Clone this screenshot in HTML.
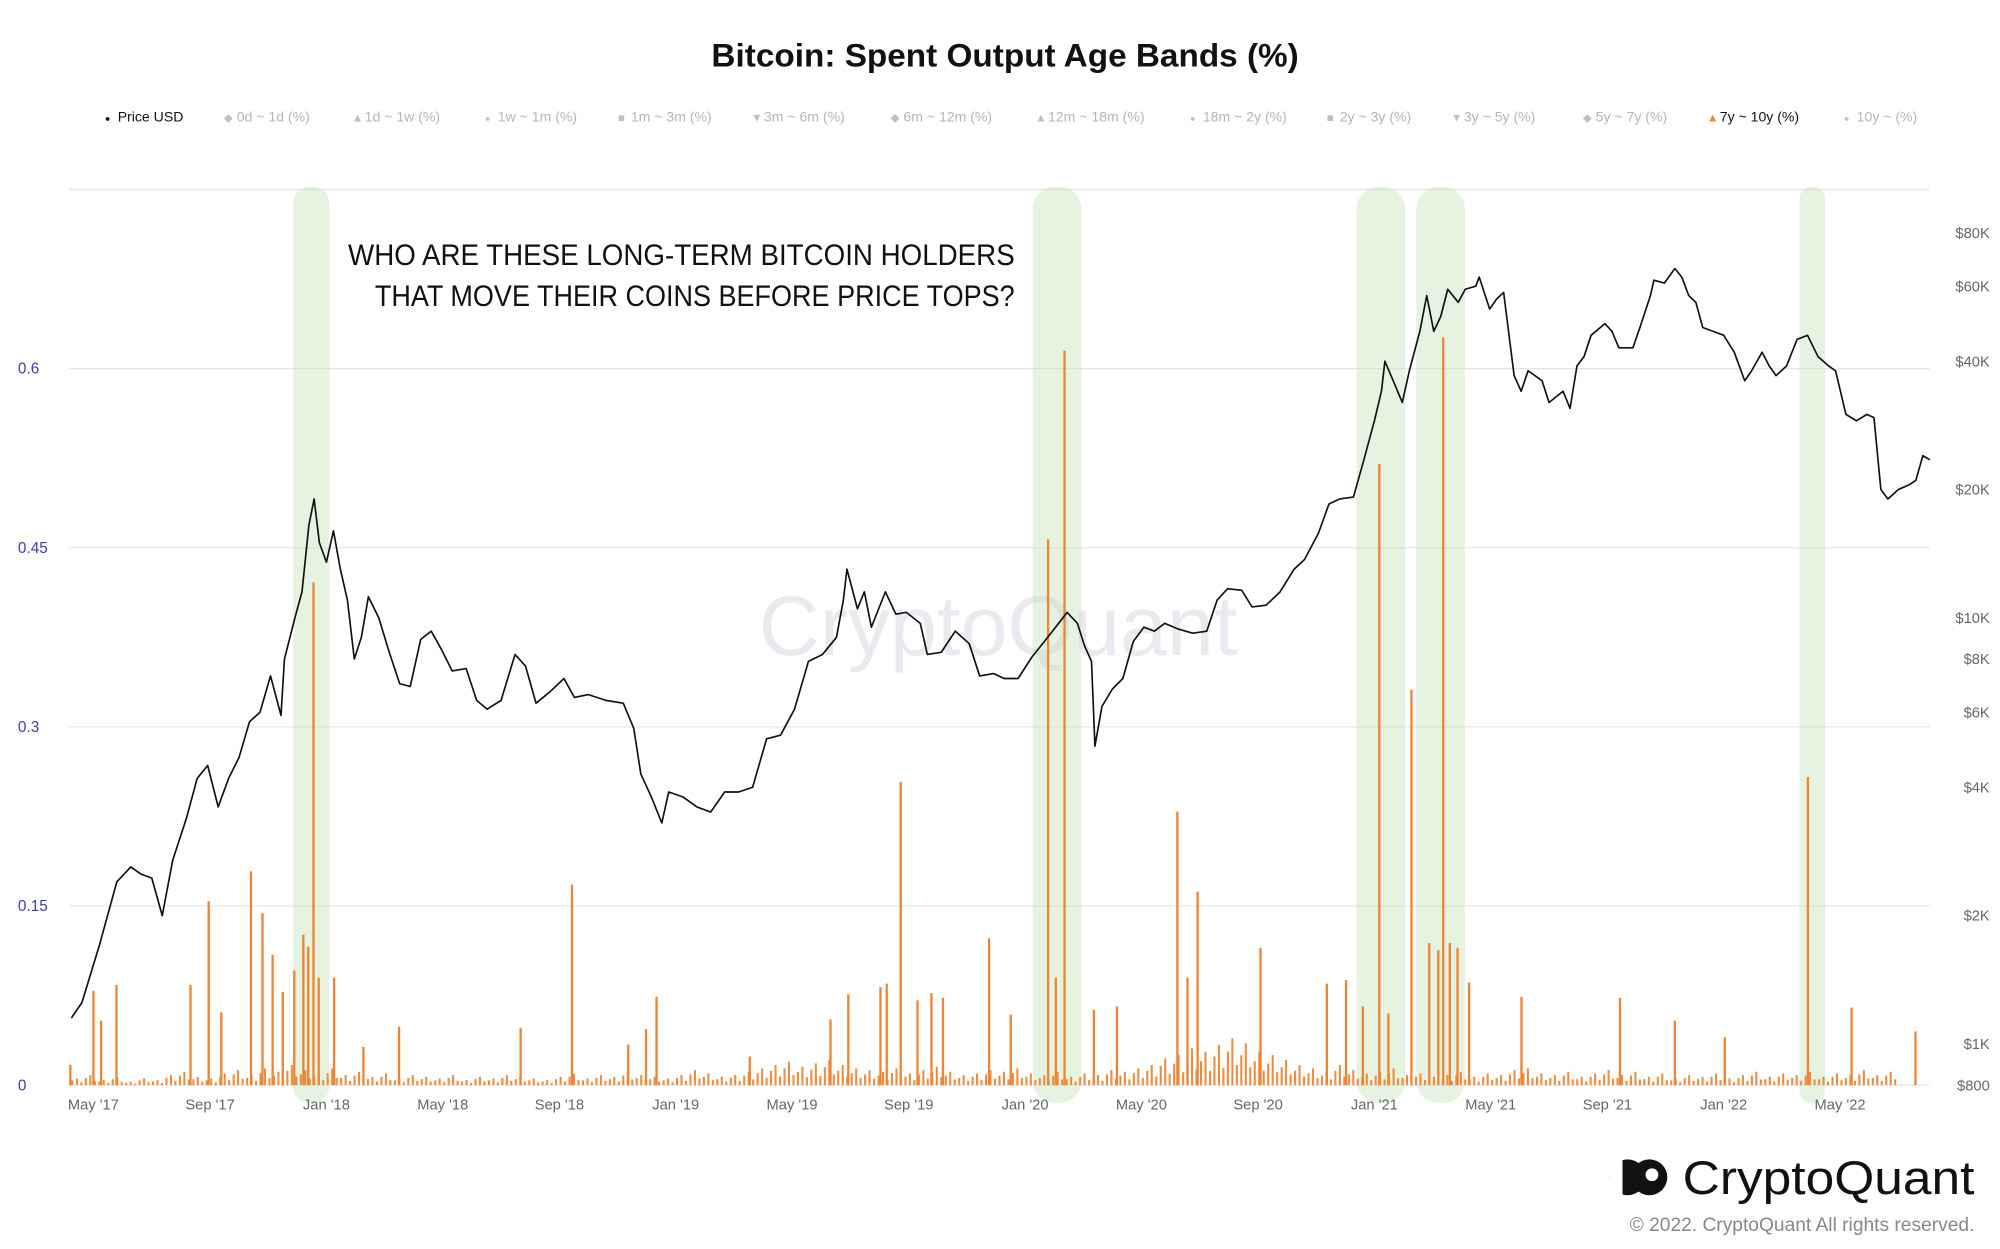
<!DOCTYPE html>
<html><head><meta charset="utf-8"><style>
html,body{margin:0;padding:0;background:#fff;}
svg{display:block;font-family:"Liberation Sans",sans-serif;}
</style></head><body>
<svg id="chart" width="2000" height="1249" viewBox="0 0 1563 976" xmlns="http://www.w3.org/2000/svg">
<text x="556" y="52" textLength="459" lengthAdjust="spacingAndGlyphs" font-size="25" font-weight="bold" fill="#111">Bitcoin: Spent Output Age Bands (%)</text>
<g id="legend" font-size="11" fill="#bbb"></g>
<g id="grid"></g>
<text x="780" y="512" text-anchor="middle" font-size="66" fill="#e9e9f0">CryptoQuant</text>
<g id="bands"></g>
<g id="bars"></g>
<g id="price"></g>
<g id="axes"></g>
<text x="272" y="207" textLength="521" lengthAdjust="spacingAndGlyphs" font-size="23" fill="#111">WHO ARE THESE  LONG-TERM BITCOIN HOLDERS</text>
<text x="293" y="239" textLength="500" lengthAdjust="spacingAndGlyphs" font-size="23" fill="#111">THAT MOVE THEIR COINS BEFORE PRICE TOPS?</text>
<g>
<circle cx="1272" cy="920" r="14" fill="#111"/><rect x="1258" y="906" width="10" height="28" fill="#fff"/>
<circle cx="1289" cy="920" r="14" fill="#111"/><circle cx="1291" cy="918" r="5" fill="#fff"/>
<text x="1315" y="933" textLength="228" lengthAdjust="spacingAndGlyphs" font-size="37" fill="#111">CryptoQuant</text>
</g>
<text x="1543" y="962" text-anchor="end" font-size="15" fill="#888">© 2022. CryptoQuant All rights reserved.</text>
</svg>
<script>
const priceDates=[2017.27,2017.30,2017.35,2017.40,2017.44,2017.47,2017.50,2017.53,2017.56,2017.60,2017.63,2017.66,2017.69,2017.72,2017.75,2017.78,2017.81,2017.84,2017.87,2017.88,2017.91,2017.93,2017.95,2017.965,2017.98,2018.00,2018.02,2018.04,2018.06,2018.08,2018.10,2018.12,2018.15,2018.18,2018.21,2018.24,2018.27,2018.30,2018.33,2018.36,2018.40,2018.43,2018.46,2018.50,2018.54,2018.57,2018.60,2018.64,2018.68,2018.71,2018.75,2018.80,2018.85,2018.88,2018.90,2018.93,2018.96,2018.98,2019.02,2019.06,2019.10,2019.14,2019.18,2019.22,2019.26,2019.30,2019.34,2019.38,2019.42,2019.46,2019.48,2019.49,2019.52,2019.54,2019.56,2019.60,2019.63,2019.66,2019.70,2019.72,2019.76,2019.80,2019.84,2019.87,2019.91,2019.94,2019.98,2020.02,2020.06,2020.10,2020.12,2020.15,2020.17,2020.19,2020.20,2020.22,2020.25,2020.28,2020.31,2020.34,2020.37,2020.40,2020.44,2020.48,2020.52,2020.55,2020.58,2020.62,2020.65,2020.69,2020.73,2020.77,2020.80,2020.84,2020.87,2020.90,2020.94,2020.97,2021.00,2021.02,2021.03,2021.06,2021.08,2021.10,2021.13,2021.15,2021.17,2021.19,2021.21,2021.24,2021.26,2021.29,2021.30,2021.33,2021.35,2021.37,2021.38,2021.40,2021.42,2021.44,2021.48,2021.50,2021.54,2021.56,2021.58,2021.60,2021.62,2021.66,2021.68,2021.70,2021.74,2021.76,2021.79,2021.80,2021.83,2021.86,2021.88,2021.90,2021.92,2021.94,2021.97,2022.00,2022.03,2022.06,2022.08,2022.11,2022.13,2022.15,2022.18,2022.21,2022.24,2022.27,2022.30,2022.32,2022.35,2022.38,2022.41,2022.43,2022.45,2022.47,2022.50,2022.53,2022.55,2022.57,2022.59];
const priceValues=[1150,1250,1700,2400,2600,2500,2450,2000,2700,3400,4200,4500,3600,4200,4700,5700,6000,7300,5900,8000,10000,11500,16500,19000,15000,13500,16000,13000,11000,8000,9000,11200,10000,8300,7000,6900,8900,9300,8400,7500,7600,6400,6100,6400,8200,7700,6300,6700,7200,6500,6600,6400,6300,5500,4300,3800,3300,3900,3800,3600,3500,3900,3900,4000,5200,5300,6100,7900,8200,9000,11000,13000,10500,11500,9500,11500,10200,10300,9700,8200,8300,9300,8700,7300,7400,7200,7200,8100,8900,9800,10300,9700,8600,7900,5000,6200,6800,7200,8800,9500,9300,9700,9400,9200,9300,11000,11700,11600,10600,10700,11500,13000,13700,15800,18500,19000,19200,23500,29000,34000,40000,35000,32000,38000,47000,57000,47000,51000,59000,55000,59000,60000,63000,53000,56000,58000,50000,37000,34000,38000,36000,32000,34000,31000,39000,41000,46000,49000,47000,43000,43000,48000,57000,62000,61000,66000,63000,57000,55000,48000,47000,46000,42000,36000,38000,42000,39000,37000,39000,45000,46000,41000,39000,38000,30000,29000,30000,29500,20000,19000,20000,20500,21000,24000,23500,24000];
const spikeDates=[2017.267,2017.333,2017.355,2017.399,2017.611,2017.663,2017.699,2017.784,2017.817,2017.846,2017.875,2017.908,2017.934,2017.948,2017.963,2017.978,2018.022,2018.106,2018.208,2018.556,2018.703,2018.864,2018.915,2018.945,2019.212,2019.443,2019.494,2019.586,2019.604,2019.644,2019.692,2019.732,2019.765,2019.897,2019.959,2020.066,2020.088,2020.113,2020.197,2020.263,2020.436,2020.465,2020.494,2020.674,2020.864,2020.919,2020.967,2021.014,2021.040,2021.106,2021.157,2021.183,2021.197,2021.216,2021.238,2021.271,2021.421,2021.703,2021.860,2022.003,2022.241,2022.366,2022.549];
const spikeValues=[0.017,0.079,0.054,0.084,0.084,0.154,0.061,0.179,0.144,0.109,0.078,0.096,0.126,0.116,0.421,0.090,0.090,0.032,0.049,0.048,0.168,0.034,0.047,0.074,0.024,0.055,0.076,0.082,0.085,0.254,0.071,0.077,0.073,0.123,0.059,0.457,0.090,0.615,0.063,0.066,0.229,0.090,0.162,0.115,0.085,0.088,0.066,0.520,0.060,0.331,0.119,0.113,0.626,0.119,0.115,0.086,0.074,0.073,0.054,0.040,0.258,0.065,0.045];
const baseStart=2017.27, baseStep=1/26;
const baseValues=[0.004,0.006,0.003,0.005,0.002,0.004,0.003,0.006,0.008,0.005,0.004,0.007,0.009,0.006,0.010,0.008,0.012,0.009,0.007,0.010,0.006,0.008,0.005,0.007,0.004,0.006,0.005,0.004,0.006,0.003,0.005,0.004,0.006,0.005,0.004,0.003,0.005,0.007,0.004,0.006,0.005,0.008,0.006,0.005,0.004,0.006,0.009,0.007,0.005,0.006,0.008,0.010,0.012,0.014,0.011,0.013,0.015,0.012,0.010,0.009,0.008,0.010,0.007,0.009,0.011,0.008,0.006,0.007,0.009,0.008,0.010,0.007,0.006,0.008,0.005,0.007,0.006,0.009,0.008,0.010,0.012,0.016,0.018,0.022,0.020,0.024,0.028,0.025,0.020,0.018,0.015,0.012,0.010,0.008,0.012,0.009,0.007,0.008,0.010,0.006,0.007,0.005,0.006,0.008,0.005,0.007,0.006,0.009,0.010,0.007,0.006,0.008,0.005,0.007,0.009,0.006,0.008,0.005,0.007,0.004,0.006,0.005,0.007,0.004,0.006,0.008,0.005,0.007,0.006,0.008,0.005,0.007,0.006,0.009,0.006,0.008];
const bandStarts=[2017.905,2020.022,2020.949,2021.120,2022.217];
const bandEnds=[2018.008,2020.161,2021.088,2021.259,2022.290];
const leftTicks=[0,0.15,0.3,0.45,0.6];
const rightTicks=[800,1000,2000,4000,6000,8000,10000,20000,40000,60000,80000];
const rightLabels=["$800","$1K","$2K","$4K","$6K","$8K","$10K","$20K","$40K","$60K","$80K"];
const xTickDates=[2017.333,2017.667,2018,2018.333,2018.667,2019,2019.333,2019.667,2020,2020.333,2020.667,2021,2021.333,2021.667,2022,2022.333];
const xTickLabels=["May '17","Sep '17","Jan '18","May '18","Sep '18","Jan '19","May '19","Sep '19","Jan '20","May '20","Sep '20","Jan '21","May '21","Sep '21","Jan '22","May '22"];
const legendLabels=["Price USD","0d ~ 1d (%)","1d ~ 1w (%)","1w ~ 1m (%)","1m ~ 3m (%)","3m ~ 6m (%)","6m ~ 12m (%)","12m ~ 18m (%)","18m ~ 2y (%)","2y ~ 3y (%)","3y ~ 5y (%)","5y ~ 7y (%)","7y ~ 10y (%)","10y ~ (%)"];
const legendSymbols=["●","◆","▲","●","■","▼","◆","▲","●","■","▼","◆","▲","●"];

const NS="http://www.w3.org/2000/svg";
const X0=54,X1=1508,Y0=848;
function xs(d){return 73+(d-2017.333)*273;}
function yl(v){return Y0-v*(140/0.15);}
function yp(p){return Y0-333*Math.log10(p/800);}
function mk(tag,attrs,parent){const e=document.createElementNS(NS,tag);for(const k in attrs)e.setAttribute(k,attrs[k]);parent.appendChild(e);return e;}

const grid=document.getElementById('grid');
[0,0.15,0.3,0.45,0.6,0.75].forEach(v=>{
  const l=mk('line',{x1:X0,x2:X1,y1:yl(v),y2:yl(v),stroke:'#e6e6e6','stroke-width':1},grid);
  
  
});

const bands=document.getElementById('bands');
bandStarts.forEach((s,i)=>{
  const x=xs(s),w=xs(bandEnds[i])-x;
  const r=mk('rect',{x:x,y:146,width:w,height:716,rx:w/2.2,fill:'rgba(196,226,184,0.42)'},bands);
  
  
});

const bars=document.getElementById('bars');
baseValues.forEach((v,i)=>{
  const d=baseStart+i*baseStep;
  for(let k=0;k<3;k++){
    const x=xs(d+k*baseStep/3);
    if(x>X1)continue;
    const vv=v*(k===1?1.4:(k===2?0.6:1));
    const r=mk('rect',{x:x,y:yl(vv),width:1.6,height:Y0-yl(vv),fill:'#f08a3c'},bars);
    
    
  }
});
spikeDates.forEach((d,i)=>{
  const r=mk('rect',{x:xs(d)-0.9,y:yl(spikeValues[i]),width:1.8,height:Y0-yl(spikeValues[i]),fill:'#ef8432'},bars);
  
  
});

const price=document.getElementById('price');
let dstr='';
priceDates.forEach((d,i)=>{dstr+=(i?'L':'M')+xs(d).toFixed(1)+' '+yp(priceValues[i]).toFixed(1);});
const pl=mk('path',{d:dstr,fill:'none',stroke:'#111','stroke-width':1.3,'stroke-linejoin':'round'},price);



const axes=document.getElementById('axes');
leftTicks.forEach(v=>{
  const t=mk('text',{x:14,y:yl(v)+4,'font-size':12,fill:'#3b3bb0'},axes);
  t.textContent=String(v);
  
  
});
rightTicks.forEach((p,i)=>{
  const t=mk('text',{x:1555,y:yp(p)+4,'font-size':11.5,fill:'#666','text-anchor':'end'},axes);
  t.textContent=rightLabels[i];
  
  
});
xTickDates.forEach((d,i)=>{
  const t=mk('text',{x:xs(d),y:867,'font-size':11.5,fill:'#666','text-anchor':'middle'},axes);
  t.textContent=xTickLabels[i];
  
  
});

const legend=document.getElementById('legend');
const legX=[82,175,275,379,483,587,696,809,930,1037,1134,1237,1334,1441];
legendLabels.forEach((lab,i)=>{
  const col=i===0?'#111':(i===12?'#111':'#b5b5b5');
  const symCol=i===0?'#111':(i===12?'#ef8432':'#c0c0c0');
  const g=mk('g',{},legend);
  
  
  const s=mk('text',{x:legX[i],y:95,'font-size':i===0||i===3||i===8||i===13?7:9,fill:symCol},g);
  s.textContent=legendSymbols[i];
  const t=mk('text',{x:legX[i]+10,y:95,'font-size':11,fill:col},g);
  t.textContent=lab;
});
</script>
</body></html>
